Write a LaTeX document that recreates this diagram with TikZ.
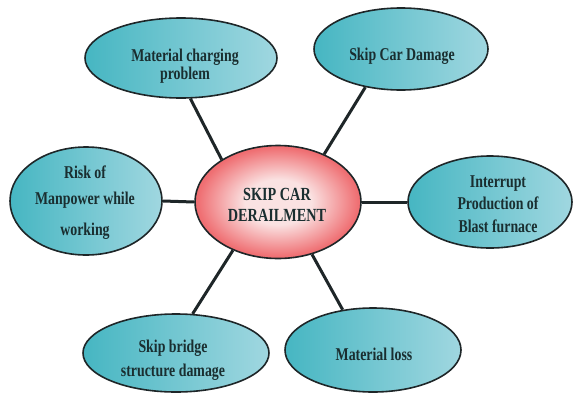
\documentclass[tikz,border=0pt]{standalone}
\usepackage{fontspec}
\setmainfont{Liberation Serif}[FakeStretch=0.77]
\usetikzlibrary{shapes.geometric,backgrounds}

\definecolor{tealdark}{RGB}{70,182,194}
\definecolor{teallight}{RGB}{160,215,224}
\definecolor{inkline}{RGB}{30,38,40}
\definecolor{labelink}{RGB}{26,46,48}
\definecolor{hotred}{RGB}{232,36,42}
\definecolor{palered}{RGB}{250,226,226}
\colorlet{midred}{hotred!60!palered}

% glowing centre for the hub ellipse
\pgfdeclareradialshading{redglow}{\pgfpoint{0bp}{0bp}}{%
  color(0bp)=(palered); color(10bp)=(palered);
  color(24bp)=(midred); color(40bp)=(hotred); color(50bp)=(hotred)}

\tikzset{
  bubble/.style={ellipse, draw=inkline, line width=1.6pt,
    left color=tealdark, right color=teallight, inner sep=0pt},
  hub/.style={ellipse, draw=inkline, line width=1.6pt,
    shading=redglow, inner sep=0pt},
  caption/.style={font=\bfseries\fontsize{18}{18}\selectfont,
    text=labelink, align=center, inner sep=0pt},
  link/.style={draw=inkline, line width=3pt},
}

\begin{document}
\begin{tikzpicture}[x=1pt,y=-1pt]
\useasboundingbox (0,0) rectangle (573,394);

% ellipses
\node[hub, minimum width=166pt, minimum height=113pt] (hub) at (278,202) {};
\node[bubble, minimum width=192pt, minimum height=80pt] (charge) at (181,58) {};
\node[bubble, minimum width=174pt, minimum height=82pt] (car) at (401,49) {};
\node[bubble, minimum width=152pt, minimum height=108pt] (risk) at (86,201) {};
\node[bubble, minimum width=164pt, minimum height=92pt] (blast) at (490,202) {};
\node[bubble, minimum width=186pt, minimum height=78pt] (bridge) at (176,353) {};
\node[bubble, minimum width=176pt, minimum height=84pt] (loss) at (373,350) {};

% labels
\node[caption] (tcharge) at (185,66) {Material charging\\problem};
\node[caption] (tcar) at (402,56) {Skip Car Damage};
\node[caption] (trisk) at (85,203) {Risk of\\[8pt]Manpower while\\[13pt]working};
\node[caption] (tblast) at (498,204) {Interrupt\\[4.5pt]Production of\\[4.5pt]Blast furnace};
\node[caption, font=\bfseries\fontsize{18.5}{18.5}\selectfont] (thub) at (277,205) {SKIP CAR\\[2.5pt]DERAILMENT};
\node[caption] (tbridge) at (173,360) {Skip bridge\\[6pt]structure damage};
\node[caption] (tloss) at (374,354) {Material loss};

% spokes behind the ellipses
\begin{scope}[on background layer]
  \fill[white] (0,0) rectangle (573,394);
  \draw[link] (charge.-77) -- (hub.143);
  \draw[link] (car.227) -- (hub.46);
  \draw[link] (risk.east) -- (hub.west);
  \draw[link] (hub.east) -- (blast.west);
  \draw[link] (hub.227) -- (bridge.67);
  \draw[link] (hub.-57) -- (loss.127);
\end{scope}
\end{tikzpicture}
\end{document}
